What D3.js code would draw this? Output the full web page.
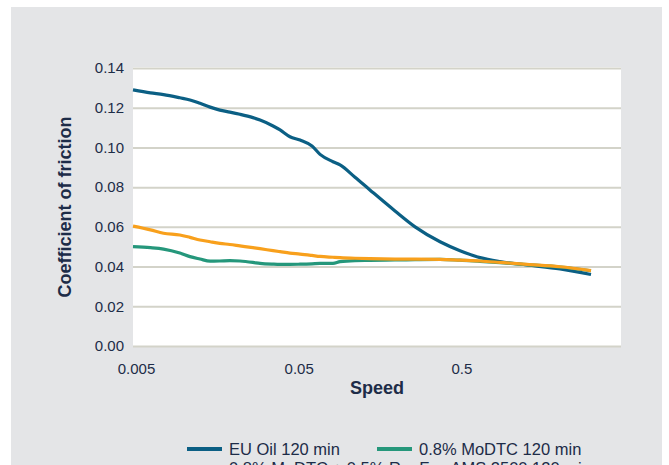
<!DOCTYPE html>
<html>
<head>
<meta charset="utf-8">
<script src="https://cdn.jsdelivr.net/npm/d3@7/dist/d3.min.js"></script>
<style>
  html, body { margin: 0; padding: 0; background: #ffffff; }
  svg { display: block; font-family: "Liberation Sans", Arial, sans-serif; }
</style>
</head>
<body>
<svg id="chart" width="669" height="465"></svg>
<script>
// ---- data ----
const speeds = [0.005, 0.0064, 0.0077, 0.0097, 0.0112, 0.0129, 0.0149, 0.0171, 0.0197, 0.0227,
                0.0273, 0.0302, 0.0363, 0.0401, 0.0461, 0.0532, 0.063, 0.0706, 0.0848, 0.0937,
                0.1158, 0.143, 0.204, 0.271, 0.386, 0.512, 0.68, 0.902, 1.32, 2.11, 3.27];
const euOil = [0.129, 0.1275, 0.1266, 0.125, 0.1239, 0.1222, 0.1203, 0.1188, 0.1178, 0.1167,
               0.1150, 0.1138, 0.1108, 0.1088, 0.1054, 0.1037, 0.1007, 0.0965, 0.0928, 0.0912,
               0.0850, 0.0786, 0.0680, 0.0600, 0.0525, 0.0480, 0.0445, 0.0425, 0.0408, 0.0388, 0.0360];
const modtc = [0.0500, 0.0495, 0.0488, 0.0468, 0.0450, 0.0438, 0.0427, 0.0428, 0.0430, 0.0428,
               0.0421, 0.0416, 0.0412, 0.0411, 0.0411, 0.0412, 0.0414, 0.0416, 0.0416, 0.0425,
               0.0430, 0.0431, 0.0433, 0.0435, 0.0436, 0.0432, 0.0426, 0.0420, 0.0410, 0.0398, 0.0379];
const modtcMix = [0.0604, 0.0585, 0.0568, 0.0559, 0.0547, 0.0534, 0.0525, 0.0517, 0.0511, 0.0504,
                  0.0495, 0.0490, 0.0480, 0.0475, 0.0468, 0.0463, 0.0456, 0.0451, 0.0447, 0.0445,
                  0.0442, 0.0440, 0.0438, 0.0437, 0.0436, 0.0432, 0.0428, 0.0421, 0.0411, 0.0399, 0.0380];
const seriesNames = ["EU Oil 120 min", "0.8% MoDTC 120 min", "0.8% MoDTC + 0.5% ReoFos AMS 2500 120 min"];
const seriesColors = ["#0b5f84", "#25977b", "#f8a01c"];
const xTickValues = [0.005, 0.05, 0.5];
const xTickLabels = ["0.005", "0.05", "0.5"];
const yTickValues = [0, 0.02, 0.04, 0.06, 0.08, 0.10, 0.12, 0.14];
const yTickLabels = ["0.00", "0.02", "0.04", "0.06", "0.08", "0.10", "0.12", "0.14"];

// ---- layout ----
const svg = d3.select("#chart");
const textColor = "#1d2c48";
const plot = { left: 133, right: 621, top: 68, bottom: 346 };

svg.append("rect").attr("x", 11).attr("y", 7).attr("width", 651).attr("height", 465)
  .attr("fill", "#e4e5e7");
svg.append("rect").attr("x", plot.left).attr("y", plot.top - 1)
  .attr("width", plot.right - plot.left).attr("height", plot.bottom - plot.top + 1)
  .attr("fill", "#ffffff");

const x = d3.scaleLog().domain([0.005, 5]).range([plot.left, plot.right]);
const y = d3.scaleLinear().domain([0, 0.14]).range([plot.bottom, plot.top]);

// gridlines
const yAxis = d3.axisLeft(y).tickValues(yTickValues)
  .tickSize(-(plot.right - plot.left))
  .tickFormat((d, i) => yTickLabels[i]);
const gy = svg.append("g").attr("transform", `translate(${plot.left},0)`).call(yAxis);
gy.select(".domain").remove();
gy.selectAll(".tick line").attr("stroke", "#d3d3c9").attr("stroke-width", 2);
gy.selectAll(".tick text").attr("x", -9).attr("fill", textColor)
  .attr("font-size", 15).attr("font-family", "Liberation Sans, Arial, sans-serif");

const xAxis = d3.axisBottom(x).tickValues(xTickValues).tickSize(0)
  .tickFormat((d, i) => xTickLabels[i]);
const gx = svg.append("g").attr("transform", `translate(3,${plot.bottom})`).call(xAxis);
gx.select(".domain").remove();
gx.selectAll(".tick text").attr("y", 17).attr("dy", "0.71em").attr("fill", textColor)
  .attr("font-size", 15).attr("font-family", "Liberation Sans, Arial, sans-serif");

// titles
svg.append("text").attr("x", (plot.left + plot.right) / 2).attr("y", 394)
  .attr("text-anchor", "middle").attr("font-weight", "bold").attr("font-size", 18)
  .attr("fill", textColor).text("Speed");
svg.append("text").attr("transform", `translate(71,${(plot.top + plot.bottom) / 2}) rotate(-90)`)
  .attr("text-anchor", "middle").attr("font-weight", "bold").attr("font-size", 18)
  .attr("fill", textColor).text("Coefficient of friction");

// lines
const seriesValues = [euOil, modtc, modtcMix];
const line = d3.line()
  .x(d => x(d[0])).y(d => y(d[1]))
  .curve(d3.curveMonotoneX);
seriesValues.forEach((vals, i) => {
  const pts = speeds.map((s, j) => [s, vals[j]]);
  svg.append("path").datum(pts).attr("d", line)
    .attr("fill", "none").attr("stroke", seriesColors[i])
    .attr("stroke-width", 3.2).attr("stroke-linejoin", "round").attr("stroke-linecap", "butt");
});

// legend
const legendItems = [
  { x: 187, y: 449 },
  { x: 377, y: 449 },
  { x: 187, y: 468 }
];
legendItems.forEach((p, i) => {
  svg.append("line").attr("x1", p.x).attr("x2", p.x + 35).attr("y1", p.y).attr("y2", p.y)
    .attr("stroke", seriesColors[i]).attr("stroke-width", 4);
  svg.append("text").attr("x", p.x + 42).attr("y", p.y + 6)
    .attr("font-size", 16.5).attr("fill", textColor).text(seriesNames[i]);
});
</script>
</body>
</html>
